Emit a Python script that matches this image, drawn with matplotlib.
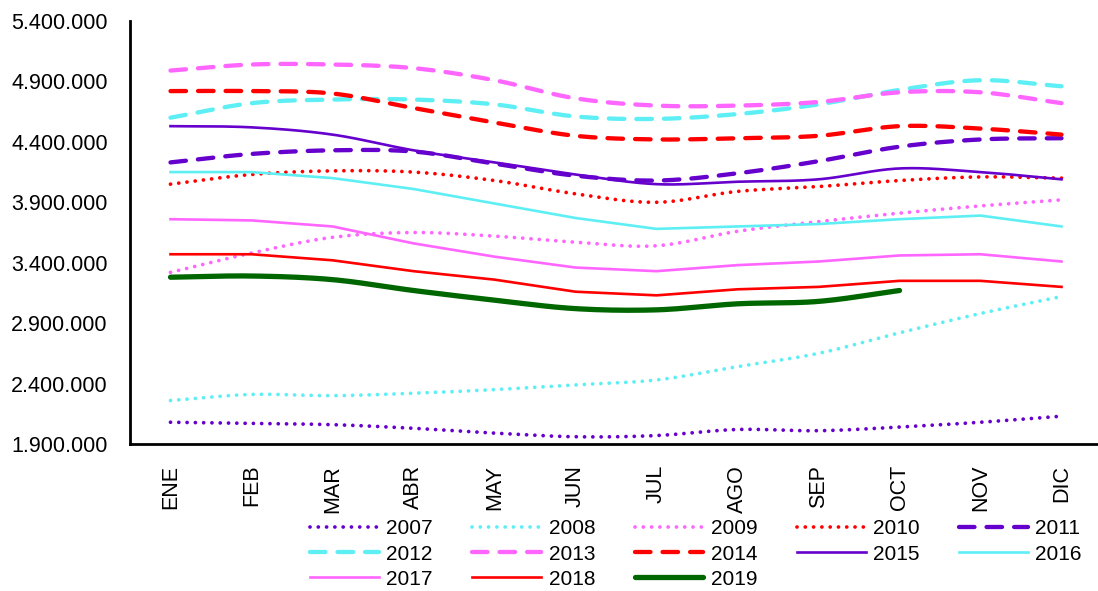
import numpy as np
import matplotlib
matplotlib.use("Agg")
import matplotlib.pyplot as plt
from matplotlib.ticker import FuncFormatter, FixedLocator

months = ["ENE", "FEB", "MAR", "ABR", "MAY", "JUN", "JUL", "AGO", "SEP", "OCT", "NOV", "DIC"]
yticks = [1900000, 2400000, 2900000, 3400000, 3900000, 4400000, 4900000, 5400000]

s2007 = [2080000, 2070000, 2060000, 2030000, 1990000, 1960000, 1970000, 2020000, 2010000, 2040000, 2080000, 2130000]
s2008 = [2260000, 2310000, 2300000, 2320000, 2350000, 2390000, 2430000, 2540000, 2650000, 2820000, 2980000, 3120000]
s2009 = [3320000, 3480000, 3610000, 3650000, 3620000, 3570000, 3540000, 3660000, 3740000, 3810000, 3870000, 3920000]
s2010 = [4050000, 4130000, 4160000, 4150000, 4080000, 3970000, 3900000, 3990000, 4030000, 4080000, 4110000, 4100000]
s2011 = [4230000, 4300000, 4330000, 4320000, 4220000, 4120000, 4080000, 4140000, 4240000, 4360000, 4420000, 4430000]
s2012 = [4600000, 4720000, 4750000, 4750000, 4710000, 4610000, 4590000, 4630000, 4710000, 4830000, 4910000, 4860000]
s2013 = [4990000, 5040000, 5040000, 5010000, 4910000, 4760000, 4700000, 4700000, 4730000, 4810000, 4810000, 4720000]
s2014 = [4820000, 4820000, 4800000, 4680000, 4560000, 4450000, 4420000, 4430000, 4450000, 4530000, 4510000, 4460000]
s2015 = [4530000, 4520000, 4460000, 4330000, 4230000, 4130000, 4050000, 4070000, 4090000, 4180000, 4150000, 4090000]
s2016 = [4150000, 4150000, 4100000, 4010000, 3890000, 3770000, 3680000, 3700000, 3720000, 3760000, 3790000, 3700000]
s2017 = [3760000, 3750000, 3700000, 3560000, 3450000, 3360000, 3330000, 3380000, 3410000, 3460000, 3470000, 3410000]
s2018 = [3470000, 3470000, 3420000, 3330000, 3260000, 3160000, 3130000, 3180000, 3200000, 3250000, 3250000, 3200000]
s2019 = [3280000, 3290000, 3260000, 3170000, 3090000, 3020000, 3010000, 3060000, 3080000, 3170000]

years = ["2007", "2008", "2009", "2010", "2011", "2012", "2013", "2014", "2015", "2016", "2017", "2018", "2019"]
series = [s2007, s2008, s2009, s2010, s2011, s2012, s2013, s2014, s2015, s2016, s2017, s2018, s2019]

PURPLE = "#6600CC"
CYAN = "#5EEFF5"
PINK = "#FF66FF"
RED = "#FF0000"
GREEN = "#006600"

dot = dict(lw=2.7, dashes=(0.01, 2.2), dash_capstyle="round")
dash = dict(lw=3.1, dashes=(3.6, 2.8), dash_capstyle="round")
solid = dict(lw=1.9)

styles = [
    (PURPLE, dot, True), (CYAN, dot, True), (PINK, dot, True), (RED, dot, True),
    (PURPLE, dash, True), (CYAN, dash, True), (PINK, dash, True), (RED, dash, True),
    (PURPLE, solid, True), (CYAN, solid, False), (PINK, solid, False), (RED, solid, False),
    (GREEN, dict(lw=3.8, solid_capstyle="round"), True),
]


def smooth(x, y, n=20):
    x = np.asarray(x, float)
    y = np.asarray(y, float)
    px = np.concatenate([[2 * x[0] - x[1]], x, [2 * x[-1] - x[-2]]])
    py = np.concatenate([[2 * y[0] - y[1]], y, [2 * y[-1] - y[-2]]])
    xs, ys = [], []
    for i in range(1, len(px) - 2):
        t = np.linspace(0, 1, n, endpoint=False)
        p0, p1, p2, p3 = py[i - 1], py[i], py[i + 1], py[i + 2]
        yy = 0.5 * ((2 * p1) + (-p0 + p2) * t + (2 * p0 - 5 * p1 + 4 * p2 - p3) * t ** 2
                    + (-p0 + 3 * p1 - 3 * p2 + p3) * t ** 3)
        xx = px[i] + (px[i + 1] - px[i]) * t
        xs.append(xx)
        ys.append(yy)
    xs.append([x[-1]])
    ys.append([y[-1]])
    return np.concatenate(xs), np.concatenate(ys)


plt.rcParams["font.family"] = ["Liberation Sans", "DejaVu Sans"]

fig = plt.figure(figsize=(10.98, 5.91), dpi=100)
ax = fig.add_axes([130 / 1098, 1 - 444 / 591, 972 / 1098, 423 / 591])

lines = {}
for yr, s, (col, st, sm) in zip(years, series, styles):
    x = np.arange(len(s))
    if sm:
        xx, yy = smooth(x, s)
    else:
        xx, yy = x, np.asarray(s, float)
    (ln,) = ax.plot(xx, yy, color=col, label=yr, clip_on=False, **st)
    lines[yr] = ln

ax.set_xlim(-0.5, 11.5)
ax.set_ylim(yticks[0], yticks[-1])
ax.yaxis.set_major_locator(FixedLocator(yticks))
ax.yaxis.set_major_formatter(FuncFormatter(lambda v, p: f"{v:,.0f}".replace(",", ".")))
ax.set_xticks(range(12))
ax.set_xticklabels(months, rotation=90)
ax.tick_params(axis="both", length=0, labelsize=15.5, colors="black")
ax.tick_params(axis="y", pad=16)
ax.tick_params(axis="x", pad=15)
for side in ["top", "right"]:
    ax.spines[side].set_visible(False)
for side in ["left", "bottom"]:
    ax.spines[side].set_linewidth(2.0)
    ax.spines[side].set_color("black")

# row-major display order in a column-filled legend
order = ["2007", "2012", "2017", "2008", "2013", "2018", "2009", "2014", "2019",
         "2010", "2015", "2011", "2016"]
leg = fig.legend([lines[k] for k in order], order, loc="center",
                 bbox_to_anchor=(696 / 1098, 1 - 554 / 591), ncol=5,
                 frameon=False, fontsize=15, handlelength=3.3, handletextpad=0.35,
                 columnspacing=1.9, labelspacing=0.3)

fig.savefig("out.png", dpi=100)
